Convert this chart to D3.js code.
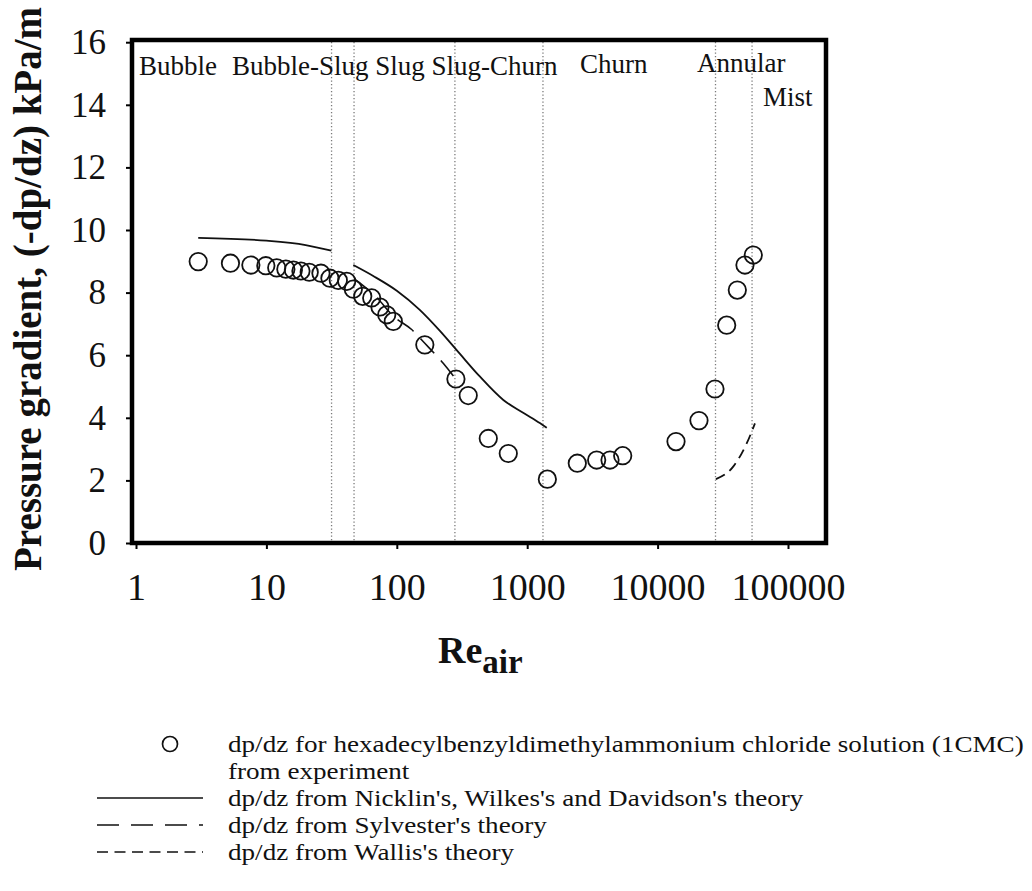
<!DOCTYPE html>
<html><head><meta charset="utf-8">
<script src="https://cdn.jsdelivr.net/npm/d3@7"></script>
<style>
body{margin:0;background:#fff}
svg{display:block}
text{font-family:"Liberation Serif","Times New Roman",serif;fill:#111}
</style>
</head><body>
<svg id="chart" width="1032" height="891"></svg>
<script>
// ---------- data ----------
const expRe = [3.0, 5.3, 7.6, 9.9, 12.0, 14.1, 16.1, 18.4, 21.3, 26.2, 30.7, 35.6, 41.3, 46.4, 54.8, 64.2, 74.3, 83.7, 94.0, 164, 284, 353, 503, 716, 1427, 2422, 3410, 4315, 5400, 13840, 20760, 27540, 33870, 40860, 46770, 54180];
const expDp = [8.99, 8.94, 8.88, 8.86, 8.79, 8.75, 8.72, 8.69, 8.65, 8.62, 8.46, 8.39, 8.36, 8.11, 7.88, 7.83, 7.54, 7.29, 7.08, 6.33, 5.24, 4.71, 3.34, 2.86, 2.04, 2.55, 2.65, 2.65, 2.79, 3.24, 3.91, 4.92, 6.96, 8.08, 8.88, 9.2];

const nicklin1Re = [3, 10, 20, 31.5];
const nicklin1Dp = [9.75, 9.66, 9.52, 9.34];
const nicklin2Re = [46.4, 66, 100, 150, 215, 305, 433, 656, 931, 1250, 1413];
const nicklin2Dp = [8.88, 8.53, 8.06, 7.45, 6.77, 6.04, 5.32, 4.57, 4.16, 3.83, 3.68];
const sylvesterRe = [47, 70, 94, 130, 164, 227, 300];
const sylvesterDp = [8.45, 7.85, 7.25, 6.82, 6.38, 5.74, 5.1];
const wallisRe = [28000, 38000, 48200, 55800];
const wallisDp = [2.04, 2.44, 3.18, 3.82];

const boundaries = [31.6, 47, 279, 1321, 27800, 53000];
const regimeLabels = ["Bubble", "Bubble-Slug Slug Slug-Churn", "Churn", "Annular", "Mist"];
const xTicks = [1, 10, 100, 1000, 10000, 100000];
const yTicks = [0, 2, 4, 6, 8, 10, 12, 14, 16];
const legendLabels = [
  "dp/dz for hexadecylbenzyldimethylammonium chloride solution (1CMC)",
  "from experiment",
  "dp/dz from Nicklin's, Wilkes's and Davidson's theory",
  "dp/dz from Sylvester's theory",
  "dp/dz from Wallis's theory"
];

// ---------- layout ----------
const frame = {left: 132, right: 826, top: 40, bottom: 543};
const regimeLayout = [[139, 75], [232, 75], [580, 73], [697, 72], [763, 106]];

const svg = d3.select("#chart");
const x = d3.scaleLog().domain([1, 100000]).range([136, 788]);
const y = d3.scaleLinear().domain([0, 16]).range([543, 42.2]);

// regime boundaries (dotted)
svg.append("g").selectAll("line").data(boundaries).join("line")
  .attr("x1", d => x(d)).attr("x2", d => x(d))
  .attr("y1", frame.top + 2).attr("y2", frame.bottom - 2)
  .attr("stroke", "#7a7a7a").attr("stroke-width", 1.3)
  .attr("stroke-dasharray", "1.3,2.2");

// regime labels
svg.append("g").selectAll("text").data(regimeLabels).join("text")
  .attr("x", (d, i) => regimeLayout[i][0])
  .attr("y", (d, i) => regimeLayout[i][1])
  .attr("font-size", 27)
  .text(d => d);

// frame
svg.append("rect")
  .attr("x", frame.left).attr("y", frame.top)
  .attr("width", frame.right - frame.left).attr("height", frame.bottom - frame.top)
  .attr("fill", "none").attr("stroke", "#000").attr("stroke-width", 4.5);

// axes
const yAxis = d3.axisLeft(y).tickValues(yTicks).tickSize(6).tickPadding(20).tickFormat(d3.format("d"));
const gy = svg.append("g").attr("transform", `translate(${frame.left},0)`).call(yAxis);
gy.attr("font-family", null);
gy.select(".domain").remove();
gy.selectAll("line").attr("stroke", "#000").attr("stroke-width", 2);
gy.selectAll("text").attr("font-size", 35).attr("fill", "#111");

const xAxis = d3.axisBottom(x).tickValues(xTicks).tickSize(6).tickPadding(24).tickFormat(d3.format("d"));
const gx = svg.append("g").attr("transform", `translate(0,${frame.bottom})`).call(xAxis);
gx.attr("font-family", null);
gx.select(".domain").remove();
gx.selectAll("line").attr("stroke", "#000").attr("stroke-width", 2);
gx.selectAll("text").attr("font-size", 38).attr("fill", "#111");

// axis titles
const xt = svg.append("text").attr("x", 438).attr("y", 663).attr("font-weight", "bold").attr("font-size", 38);
xt.append("tspan").text("Re");
xt.append("tspan").attr("font-size", 33).attr("dy", 10).text("air");

svg.append("text")
  .attr("transform", "translate(41,289) rotate(-90)")
  .attr("text-anchor", "middle").attr("font-weight", "bold").attr("font-size", 39)
  .text("Pressure gradient, (-dp/dz) kPa/m");

// lines
const line = d3.line().x(d => x(d[0])).y(d => y(d[1])).curve(d3.curveMonotoneX);
const zip = (a, b) => a.map((v, i) => [v, b[i]]);
const g = svg.append("g").attr("fill", "none").attr("stroke", "#111");
g.append("path").attr("d", line(zip(nicklin1Re, nicklin1Dp))).attr("stroke-width", 1.8);
g.append("path").attr("d", line(zip(nicklin2Re, nicklin2Dp))).attr("stroke-width", 1.8);
g.append("path").attr("d", line(zip(sylvesterRe, sylvesterDp))).attr("stroke-width", 1.6).attr("stroke-dasharray", "20,10");
g.append("path").attr("d", line(zip(wallisRe, wallisDp))).attr("stroke-width", 1.8).attr("stroke-dasharray", "10,6");

// experiment circles
svg.append("g").selectAll("circle").data(zip(expRe, expDp)).join("circle")
  .attr("cx", d => x(d[0])).attr("cy", d => y(d[1])).attr("r", 8.7)
  .attr("fill", "none").attr("stroke", "#111").attr("stroke-width", 1.8);

// legend
const lg = svg.append("g");
const legY = [744, 771, 798, 825, 852];
lg.selectAll("text").data(legendLabels).join("text")
  .attr("transform", (d, i) => `translate(228,${legY[i] + 8}) scale(1.13,1)`)
  .attr("font-size", 24).text(d => d);
lg.append("circle").attr("cx", 170).attr("cy", legY[0]).attr("r", 7.5)
  .attr("fill", "none").attr("stroke", "#111").attr("stroke-width", 1.7);
lg.append("line").attr("x1", 97).attr("x2", 203).attr("y1", legY[2]).attr("y2", legY[2])
  .attr("stroke", "#111").attr("stroke-width", 1.6);
lg.append("line").attr("x1", 97).attr("x2", 203).attr("y1", legY[3]).attr("y2", legY[3])
  .attr("stroke", "#111").attr("stroke-width", 1.6).attr("stroke-dasharray", "22,12");
lg.append("line").attr("x1", 97).attr("x2", 203).attr("y1", legY[4]).attr("y2", legY[4])
  .attr("stroke", "#111").attr("stroke-width", 1.6).attr("stroke-dasharray", "11,6.5");
</script>
</body></html>
